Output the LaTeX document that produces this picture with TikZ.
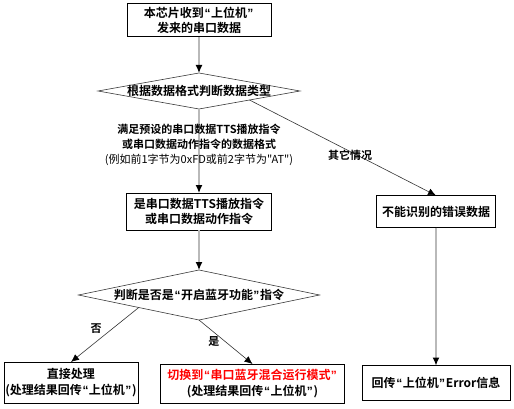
\documentclass[tikz,border=0pt]{standalone}
\usepackage{fontspec}
\setmainfont{Noto Sans CJK SC}[BoldFont={Noto Sans CJK SC Bold}, Ligatures=TeXOff]
\newfontfamily\quofont{Liberation Sans}
\newcommand{\oquo}{{\quofont\kern0.8pt“\kern0.4pt}}
\newcommand{\cquo}{{\quofont\kern0.4pt”\kern0.8pt}}
\usepackage{xcolor}
\usetikzlibrary{shapes.geometric, arrows.meta, positioning}

\begin{document}
\begin{tikzpicture}[node distance=1cm]

    % Define style for boxes
    \tikzstyle{proc} = [rectangle, draw=black, line width=1pt, fill=white, align=center, inner sep=0pt, outer sep=0pt, font=\fontsize{12pt}{15.5pt}\selectfont\bfseries]
    \tikzstyle{decision} = [diamond, draw=gray!45!black, line width=0.6pt, align=center, inner xsep=-40pt, inner ysep=-5pt, outer sep=0pt, shape aspect=6, font=\fontsize{12pt}{15pt}\selectfont\bfseries]
    \tikzstyle{cond} = [align=center, inner sep=0pt, font=\fontsize{11pt}{15pt}\selectfont]
    \tikzstyle{vline} = [draw=gray!55, line width=1.3pt, -{Latex[black,length=8pt,width=7pt]}]
    \tikzstyle{dline} = [draw=gray!40!black, line width=0.6pt, -{Latex[black,length=8pt,width=7pt]}]

    \useasboundingbox (0,0) rectangle (514pt,-409pt);

    % Nodes
    \node (recv) [proc, minimum width=144pt, minimum height=33pt] at (199pt,-20.5pt) {本芯片收到\oquo 上位机\cquo\\发来的串口数据};
    \node (judgetype) [decision, minimum width=202pt, minimum height=36pt, below=36pt of recv] {根据数据格式判断数据类型};
    \node (ttscmd) [proc, minimum width=145pt, minimum height=37pt, below=84pt of judgetype] {是串口数据TTS播放指令\\或串口数据动作指令};
    \node (errdata) [proc, minimum width=119pt, minimum height=32pt, right=105pt of ttscmd] {不能识别的错误数据};
    \node (judgebt) [decision, minimum width=241pt, minimum height=50pt, below=40pt of ttscmd] {判断是否是\oquo 开启蓝牙功能\cquo 指令};

    \node (switchbt) [proc, minimum width=184pt, minimum height=39pt, below=44pt of judgebt, xshift=53.5pt] {\textcolor{red}{切换到\oquo 串口蓝牙混合运行模式\cquo}\\(处理结果回传\oquo 上位机\cquo)};
    \node (direct) [proc, minimum width=134pt, minimum height=41pt, left=22.5pt of switchbt, yshift=1pt] {直接处理\\(处理结果回传\oquo 上位机\cquo)};
    \node (errreply) [proc, minimum width=148pt, minimum height=35pt, below=138pt of errdata] {回传\oquo 上位机\cquo Error信息};

    % Lines
    \draw[vline] (recv) -- (judgetype);
    \draw[vline] (judgetype) -- node[cond, pos=0.43] {\textbf{满足预设的串口数据TTS播放指令}\\\textbf{或串口数据动作指令的数据格式}\\(例如前1字节为0xFD或前2字节为"AT")} (ttscmd);
    \draw[dline] (judgetype.south east) -- node[cond, pos=0.54, yshift=-4pt, font=\fontsize{11pt}{13pt}\selectfont\bfseries] {其它情况} (errdata.north);
    \draw[vline] (ttscmd) -- (judgebt);
    \draw[vline] (errdata) -- (errreply);

    \draw[dline] (judgebt.south west) -- node[cond, pos=0.38, left=11pt, font=\fontsize{11pt}{13pt}\selectfont\bfseries] {否} (direct.north);
    \draw[dline] (judgebt.south) -- node[cond, pos=0.48, left=5pt, font=\fontsize{11pt}{13pt}\selectfont\bfseries] {是} (switchbt.north);

\end{tikzpicture}
\end{document}
